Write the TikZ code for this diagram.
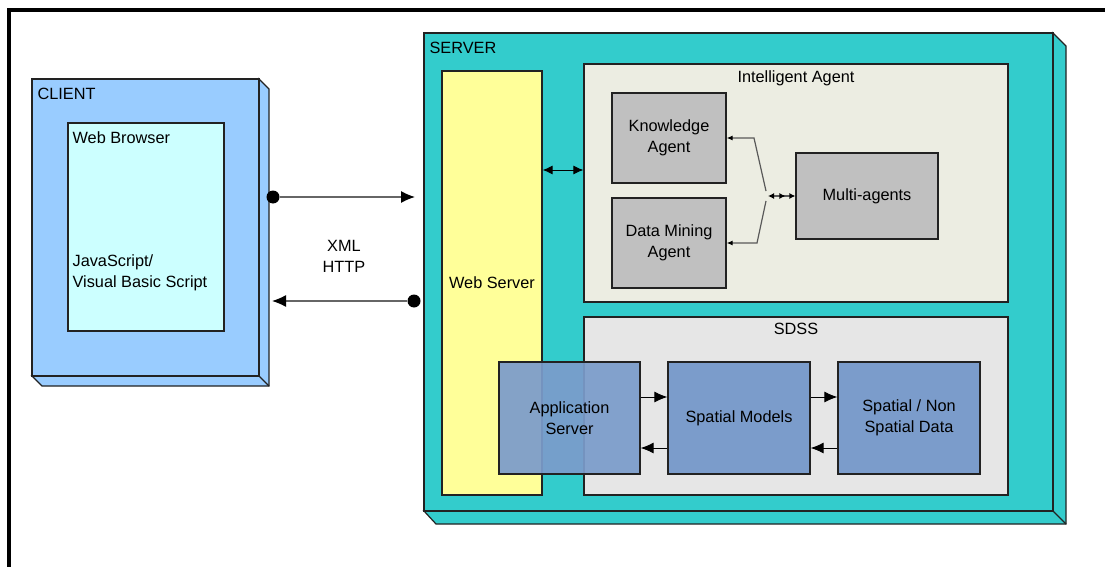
\documentclass[tikz,border=0pt]{standalone}
\usepackage{fontspec}
\setmainfont{Liberation Sans}
\usepackage{tikz}
\usetikzlibrary{arrows.meta}
\definecolor{clientblue}{RGB}{153,204,255}
\definecolor{browsercyan}{RGB}{204,255,255}
\definecolor{serverteal}{RGB}{51,204,204}
\definecolor{webyellow}{RGB}{255,255,153}
\definecolor{agentbeige}{RGB}{236,237,226}
\definecolor{sdssgray}{RGB}{230,230,230}
\definecolor{agentgray}{RGB}{192,192,192}
\definecolor{modelblue}{RGB}{123,156,203}
\definecolor{edgegray}{RGB}{34,34,34}
\begin{document}
\begin{tikzpicture}[x=1pt,y=-1pt,inner sep=0pt,
    font=\fontsize{16.3}{21}\selectfont,
    box/.style={draw=edgegray,line width=1.2pt,rectangle},
    agentbox/.style={box,fill=agentgray,align=center},
    modelbox/.style={box,fill=modelblue,align=center,minimum width=142,minimum height=112},
    link/.style={black,line width=1pt,-{Latex[length=13pt,width=11pt]}},
    dlink/.style={black,line width=1pt,{Latex[length=10pt,width=9pt]}-{Latex[length=10pt,width=9pt]}},
    glink/.style={gray!70!black,line width=1.2pt},
    wlink/.style={draw=gray!80!black,line width=1.2pt,-{Latex[length=14pt,width=12pt,black]}},
    dot/.style={fill,circle,black,minimum size=13pt}]
\useasboundingbox (0,0) rectangle (1105,567);
% page frame
\draw[line width=4pt] (9,567) -- (9,10) -- (1105,10);

% client, with its depth
\draw[box,fill=clientblue] (259,79) -- (269,89) -- (269,386) -- (42,386) -- (32,376) -- (259,376) -- cycle;
\draw[box] (259,376) -- (269,386);
\draw (145.5,227.5) node[box,fill=clientblue,minimum width=227,minimum height=297](client) {};
\draw (client.north west) ++(6,10) node[anchor=north west] {CLIENT};
\draw (146,227) node[box,fill=browsercyan,minimum width=156,minimum height=208](browser) {};
\draw (browser.north west) ++(5,9) node[anchor=north west] {Web Browser};
\draw (browser.west) ++(5,46) node[anchor=west,align=left] {JavaScript/\\Visual Basic Script};

% server, with its depth
\draw[box,fill=serverteal] (1053,33) -- (1066,46) -- (1066,524) -- (436,524) -- (424,511) -- (1053,511) -- cycle;
\draw[box] (1053,511) -- (1066,524);
\draw (738.5,272) node[box,fill=serverteal,minimum width=629,minimum height=478](server) {};
\draw (server.north west) ++(6,10) node[anchor=north west] {SERVER};
\draw (492,283) node[box,fill=webyellow,minimum width=100,minimum height=424](web) {};
\draw (web.center) node {Web Server};

% intelligent agent
\draw (796,183) node[box,fill=agentbeige,minimum width=424,minimum height=238](agent) {};
\draw (agent.north) ++(0,7) node[anchor=north] {Intelligent Agent};
\draw (669,138) node[agentbox,minimum width=114,minimum height=90](know) {Knowledge\\Agent};
\draw (669,243) node[agentbox,minimum width=114,minimum height=90](mining) {Data Mining\\Agent};
\draw (867,196) node[agentbox,minimum width=142,minimum height=86](multi) {Multi-agents};
\coordinate (kbend) at (754,138);
\coordinate (dbend) at (757,243);
\coordinate (kjoin) at (766,191);
\coordinate (djoin) at (766,201);
\coordinate (join) at (768,196);
\draw[glink,-{Latex[length=6pt,width=5pt,black]}] (kjoin) -- (kbend) -- (know.east);
\draw[glink,-{Latex[length=6pt,width=5pt,black]}] (djoin) -- (dbend) -- (mining.east);
\draw[glink,{Latex[length=6pt,width=6pt,black]}-{Latex[length=6pt,width=6pt,black,sep=4pt]Latex[length=6pt,width=6pt,black]}] (join) -- (multi.west);
\draw[dlink] (web.east |- 0,170) -- (agent.west |- 0,170);

% sdss
\draw (796,406) node[box,fill=sdssgray,minimum width=424,minimum height=178](sdss) {};
\draw (sdss.north) ++(0,7) node[anchor=north] {SDSS};
\draw (569.5,418) node[modelbox,fill opacity=0.93,text opacity=1,minimum width=141](app) {Application\\Server};
\draw (739,418) node[modelbox](models) {Spatial Models};
\draw (909,418) node[modelbox](data) {Spatial / Non\\Spatial Data};
\draw[link] (app.east |- 0,397) -- (models.west |- 0,397);
\draw[link] (models.west |- 0,448) -- (app.east |- 0,448);
\draw[link] (models.east |- 0,397) -- (data.west |- 0,397);
\draw[link] (data.west |- 0,448) -- (models.east |- 0,448);

% client <-> server
\draw (273,197) node[dot](cout) {};
\coordinate (sin) at (415,197);
\draw (414,301) node[dot](sout) {};
\coordinate (cin) at (272,301);
\draw[wlink] (cout) -- (sin);
\draw[wlink] (sout) -- (cin);
\draw (344,256) node[align=center](proto) {XML\\HTTP};
\end{tikzpicture}
\end{document}
